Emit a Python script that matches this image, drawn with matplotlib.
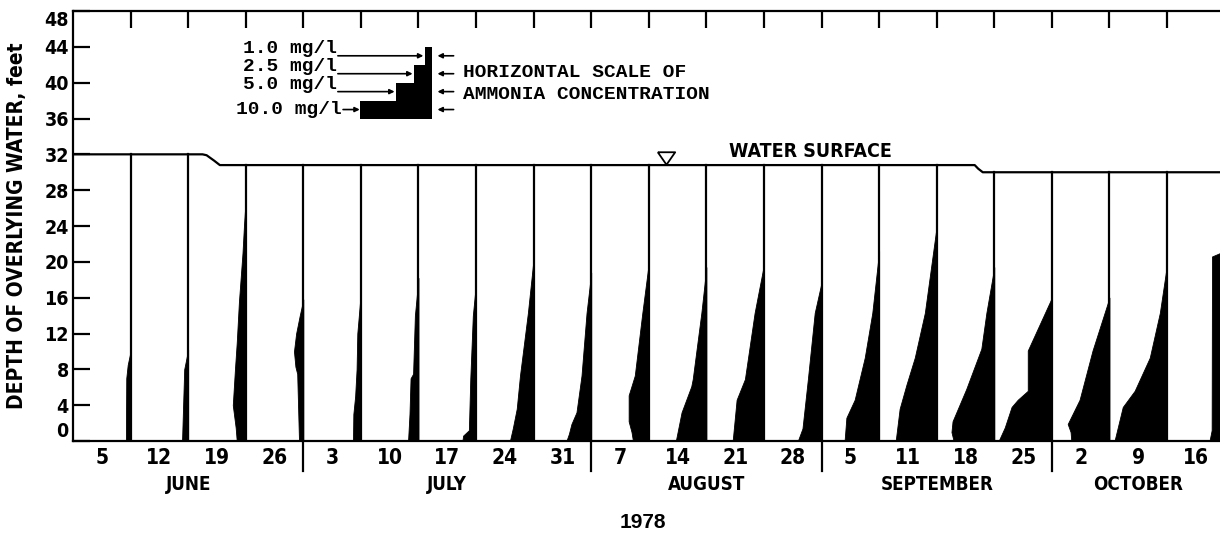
# ================== dependencias ============== #
import matplotlib
matplotlib.use("Agg")
import matplotlib.pyplot as plt
import numpy as np


# ================== fuentes y estilo ============== #
COND = ["DejaVu Sans"]
MONO = ["Liberation Mono", "DejaVu Sans Mono"]

matplotlib.rcParams.update({
    "font.family": COND,
    "font.stretch": "condensed",
    "font.weight": "bold",
    "axes.labelweight": "bold",
    "axes.linewidth": 1.6,
    "figure.dpi": 100,
    "savefig.dpi": 100,
})


# ================== datos ============== #
# etiquetas de dia (una por semana) y meses
DAY_LABELS  = ["5", "12", "19", "26", "3", "10", "17", "24", "31", "7",
               "14", "21", "28", "5", "11", "18", "25", "2", "9", "16"]
MONTHS      = ["JUNE", "JULY", "AUGUST", "SEPTEMBER", "OCTOBER"]
MONTH_WEEKS = [4, 5, 4, 4, 3]

# superficie del agua (posicion en semanas, profundidad en pies)
SURF_X = [0, 2.25, 2.32, 2.45, 2.55, 15.66, 15.72, 15.8, 20]
SURF_D = [32, 32, 31.9, 31.3, 30.8, 30.8, 30.4, 30.0, 30]

# perfiles de amoniaco por fecha de muestreo (semanas 1..20)
# profundidad (pies) y concentracion (mg/l)
PROF_DEPTH = [
    [0, 7, 8.5, 10],
    [0, 4, 8, 10.2],
    [0, 1.5, 4, 8, 11, 15.5, 21, 24, 27.1],
    [0, 1.5, 7.5, 8.3, 10, 12, 14, 15.8],
    [0, 3, 5, 8, 12, 16.7],
    [0, 3, 7, 7.5, 14, 18.2],
    [0, 0.6, 1.2, 7, 14, 17.7],
    [0, 1.4, 3.6, 7.3, 14.3, 20.4],
    [0, 0.8, 1.9, 3.2, 7.3, 14.3, 18.8],
    [0, 1, 2.2, 5.1, 7.3, 14.3, 19.9],
    [0, 3.2, 6.1, 6.9, 14.3, 19.4],
    [0, 4.6, 6.9, 14.3, 19.7],
    [0, 1.4, 6.9, 14.3, 17.7],
    [0, 2.6, 4.6, 9.3, 14.3, 21.2],
    [0, 3.6, 6.3, 9.3, 14.3, 24],
    [0, 1, 2.2, 5.8, 10.3, 14.3, 19.4],
    [0, 1.5, 3.8, 4.6, 5.6, 10.1, 16],
    [0, 1, 1.9, 4.6, 10.1, 16],
    [0, 3.8, 5.6, 9.3, 14.3, 19.7],
    [0, 1.2, 20.6, 21.2],
]
PROF_CONC = [
    [0.65, 0.6, 0.4, 0],
    [0.85, 0.7, 0.55, 0],
    [1.25, 1.4, 1.8, 1.5, 1.25, 0.95, 0.45, 0.25, 0],
    [0.6, 0.65, 0.85, 1.1, 1.3, 1.0, 0.5, 0],
    [1.1, 1.05, 0.8, 0.6, 0.5, 0],
    [1.45, 1.25, 1.1, 0.75, 0.5, 0],
    [1.9, 1.8, 1.0, 0.8, 0.45, 0],
    [3.3, 2.9, 2.35, 1.9, 0.8, 0],
    [3.45, 3.1, 2.75, 2.05, 1.35, 0.65, 0],
    [2.2, 2.4, 2.8, 2.8, 1.95, 0.9, 0],
    [4.25, 3.45, 2.1, 1.9, 0.7, 0],
    [4.35, 3.8, 2.65, 1.3, 0],
    [3.3, 2.65, 1.9, 0.95, 0],
    [4.8, 4.55, 3.4, 2.0, 0.95, 0],
    [5.7, 5.15, 4.2, 3.05, 1.65, 0],
    [5.65, 5.95, 5.8, 3.9, 1.8, 1.1, 0],
    [7.4, 6.55, 5.6, 4.75, 3.35, 3.35, 0],
    [5.3, 5.4, 5.8, 4.15, 2.35, 0],
    [7.3, 6.15, 4.5, 2.4, 1.0, 0],
    [2.1, 1.8, 1.75, 0],
]

# escala horizontal de concentracion (semanas por mg/l)
MG_SCALE = 0.125

# leyenda de escala
SCALE_CONC = [10.0, 5.0, 2.5, 1.0]
SCALE_TOP  = [38, 40, 42, 44]
SCALE_BASE = 36
SCALE_X    = 6.23


# ================== figura ============== #
fig = plt.figure(figsize=(12.2, 5.35))
ax = fig.add_axes([73 / 1220, 1 - 441 / 535, 1147 / 1220, 430 / 535])

# el grafico termina justo antes de la ultima fecha
ax.set_xlim(0, 19.92)
ax.set_ylim(0, 48)
ax.spines["right"].set_visible(False)

# superficie del agua
ax.plot(SURF_X, SURF_D, color="black", lw=1.6, solid_capstyle="butt")

# perfiles y lineas de muestreo
for k, (d, c) in enumerate(zip(PROF_DEPTH, PROF_CONC), start=1):
    d = np.array(d)
    c = np.array(c)
    ax.fill_betweenx(d, k - c * MG_SCALE, k, color="black", lw=0.6)
    top = np.interp(k, SURF_X, SURF_D)
    ax.plot([k, k], [0, top], color="black", lw=1.6)

# marcador de superficie
tri = [(-1, 0.72), (1, 0.72), (0, -0.72), (-1, 0.72)]
ax.plot(10.3, 31.6, marker=tri, ms=12.5, mfc="white", mec="black", mew=1.3)
ax.text(12.8, 32.3, "WATER SURFACE", ha="center", va="center", fontsize=14)

# ================== escala de concentracion ============== #
xs, ys = [SCALE_X], [SCALE_BASE]
base = SCALE_BASE
for c, t in zip(SCALE_CONC, SCALE_TOP):
    xs += [SCALE_X - c * MG_SCALE, SCALE_X - c * MG_SCALE]
    ys += [base, t]
    base = t
xs.append(SCALE_X)
ys.append(base)
ax.fill(xs, ys, color="black", lw=0)

arrow = dict(arrowstyle="-|>", color="black", lw=1.2, mutation_scale=7,
             shrinkA=0, shrinkB=0)
for i, (c, t) in enumerate(zip(SCALE_CONC, SCALE_TOP)):
    ya = t - 1
    edge = SCALE_X - c * MG_SCALE
    if i == 0:
        ax.text(4.66, ya, f"{c:.1f} mg/l", ha="right", va="center",
                family=MONO, fontsize=14)
        ax.annotate("", xy=(edge, ya), xytext=(4.69, ya), arrowprops=arrow)
    else:
        ax.text(4.58, ya + 0.8, f"{c:.1f} mg/l", ha="right", va="center",
                family=MONO, fontsize=14)
        ax.annotate("", xy=(edge - 0.02, ya), xytext=(4.6, ya), arrowprops=arrow)
    ax.annotate("", xy=(SCALE_X + 0.1, ya), xytext=(SCALE_X + 0.38, ya),
                arrowprops=arrow)

ax.text(6.77, 41.1, "HORIZONTAL SCALE OF", ha="left", va="center",
        family=MONO, fontsize=14)
ax.text(6.77, 38.7, "AMMONIA CONCENTRATION", ha="left", va="center",
        family=MONO, fontsize=14)

# ================== ejes ============== #
ax.set_xticks(np.arange(1, 20))
ax.tick_params(axis="x", which="major", top=True, bottom=False,
               labelbottom=False, direction="in", length=12.5, width=1.6)
ax.set_xticks(np.arange(20) + 0.5, minor=True)
ax.set_xticklabels(DAY_LABELS, minor=True)
ax.tick_params(axis="x", which="minor", bottom=True, top=False, length=0,
               pad=5, labelsize=15)

ax.set_yticks(np.arange(0, 49, 4))
ax.tick_params(axis="y", direction="in", length=12.5, width=1.6,
               labelsize=14, pad=3)
ylab = ax.get_yticklabels()
ylab[0].set_va("bottom")
ylab[-1].set_va("top")

ax.set_ylabel("DEPTH OF OVERLYING WATER, feet", fontsize=15,
              fontweight="bold")
ax.yaxis.set_label_coords(-0.04, 0.5)

# meses y separadores
edges = np.concatenate([[0], np.cumsum(MONTH_WEEKS)])
for name, a, b in zip(MONTHS, edges[:-1], edges[1:]):
    ax.text((a + b) / 2, -4.8, name, ha="center", va="center",
            fontsize=13.5, clip_on=False)
for b in edges[1:-1]:
    ax.plot([b, b], [0, -3.3], color="black", lw=1.6, clip_on=False)

fig.text(643 / 1220, 1 - 523 / 535, "1978", ha="center", va="center",
         family=["Liberation Sans", "DejaVu Sans"], fontsize=15)

fig.savefig("out.png")
